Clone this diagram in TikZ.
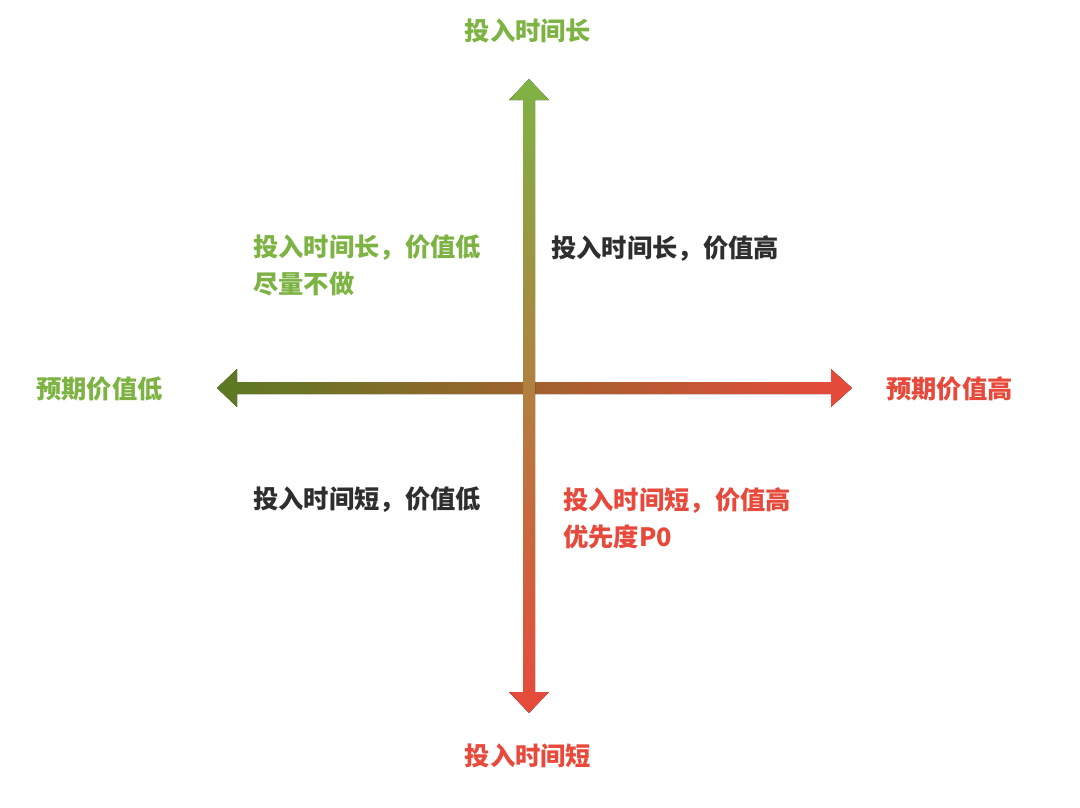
\documentclass[tikz,border=0pt]{standalone}
\usepackage{fontspec}
\newfontfamily\cjk{Noto Sans CJK SC}
\definecolor{tgreen}{HTML}{7DB343}
\definecolor{olive}{HTML}{5A7A22}
\definecolor{tred}{HTML}{E8493B}
\definecolor{tblack}{HTML}{2E2E2E}
\begin{document}
\begin{tikzpicture}[x=1pt,y=-1pt,
  lbl/.style={font=\cjk\fontsize{25.3}{37}\selectfont\bfseries, inner sep=0pt, align=left},
  ]
\useasboundingbox[fill=white] (0,0) rectangle (1080,807);
% axis end points
\coordinate (L) at (217,388);
\coordinate (R) at (852,388);
\coordinate (T) at (529,79);
\coordinate (B) at (529,713);
% horizontal arrow
\fill[left color=olive, right color=tred]
  (L) -- (237,369) -- (237,382) -- (831,382) -- (831,369) -- (R)
  -- (831,407) -- (831,394) -- (237,394) -- (237,407) -- cycle;
% vertical arrow
\fill[top color=tgreen, bottom color=tred]
  (T) -- (549,100) -- (535,100) -- (535,692) -- (549,692) -- (B)
  -- (509,692) -- (523,692) -- (523,100) -- (509,100) -- cycle;
% axis labels
\node[lbl, text=tgreen] (top) at (528,31) {投入时间长};
\node[lbl, text=tred] (bottom) at (528,756) {投入时间短};
\node[lbl, text=tgreen, anchor=west] (left) at (36,389) {预期价值低};
\node[lbl, text=tred, anchor=east] (right) at (1013,389) {预期价值高};
% quadrant labels
\node[lbl, text=tgreen, anchor=north west] (q2) at (253,235) {投入时间长，价值低\\尽量不做};
\node[lbl, text=tblack, anchor=north west] (q1) at (551,235) {投入时间长，价值高};
\node[lbl, text=tblack, anchor=north west] (q3) at (253,487) {投入时间短，价值低};
\node[lbl, text=tred, anchor=north west] (q4) at (563,487) {投入时间短，价值高\\优先度P0};
\end{tikzpicture}
\end{document}
